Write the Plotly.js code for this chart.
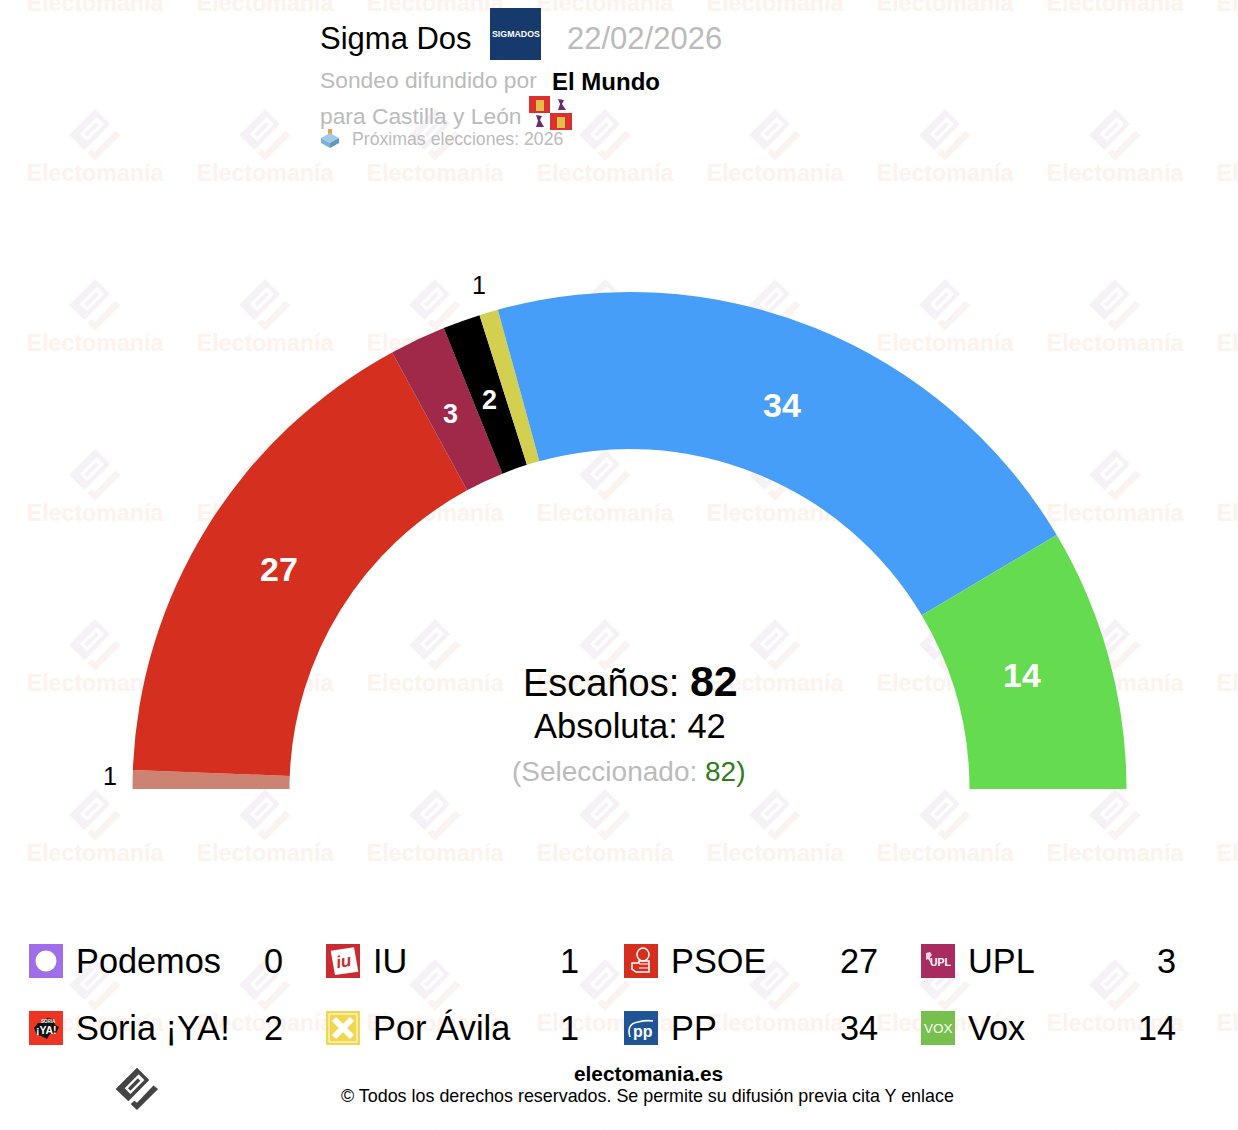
<!DOCTYPE html>
<html>
<head>
<meta charset="utf-8">
<script src="https://cdn.plot.ly/plotly-3.0.1.min.js"></script>
<style>html,body{margin:0;padding:0;background:#fff;overflow:hidden;width:1238px;height:1130px}</style>
</head>
<body>
<div id="chart"></div>
<script>
// ---- data ----
const parties = ["Podemos","IU","PSOE","UPL","Soria ¡YA!","Por Ávila","PP","Vox"];
const seats = [0,1,27,3,2,1,34,14];
const sliceColors = ["#a06ee8","#cc8371","#d52f1f","#a0294a","#000000","#d2d04e","#469ef8","#65db50"];
const totalSeats = 82;
const majority = 42;
const selected = 82;
const pollster = "Sigma Dos";
const pollDate = "22/02/2026";
const media = "El Mundo";

// ---- page geometry ----
const W = 1400, H = 1300, FONT = '"Liberation Sans", Arial, sans-serif';
const CX = 629.5, CY = 789, RO = 497, RI = 340;
const GREY = '#bbbbbb';

const shapes = [], ann = [];
const poly = (pts,dx,dy,s) => pts.map((p,i)=>(i?'L':'M')+(dx+p[0]*s).toFixed(2)+','+(dy+p[1]*s).toFixed(2)).join(' ')+' Z';
const addPath = (d,fill,layer,extra) => shapes.push(Object.assign({type:'path',path:d,xref:'x',yref:'y',fillcolor:fill,line:{width:0},layer:layer||'above'},extra||{}));
const addRect = (x0,y0,x1,y1,fill,layer) => shapes.push({type:'rect',x0,y0,x1,y1,xref:'x',yref:'y',fillcolor:fill,line:{width:0},layer:layer||'above'});
const addText = (x,y,text,size,color,anchor,extra) => ann.push(Object.assign({x,y,xref:'x',yref:'y',text,showarrow:false,xanchor:anchor||'left',yanchor:'middle',font:{family:FONT,size,color:color||'#000'},borderpad:0,borderwidth:0},extra||{}));

// ---- logo outline used by the watermark and the footer ----
const logoBody = [[0,-26],[15,-11],[-10.5,15],[-26,0]];
const logoHole = [[-15,-1],[-8,6],[9,-11],[2,-18]];
const logoBar  = [[-11,-1],[-8,2],[4,-10],[1,-13]];
const logoArm  = [[20,-4.3],[25.7,0],[0,25.7],[-7.7,18.3],[-3.3,14.3],[0,16.7]];
function logo(cx,cy,s,c1,c2,layer){
  addPath(poly(logoBody,cx,cy,s)+' '+poly(logoHole,cx,cy,s),c1,layer);
  addPath(poly(logoBar,cx,cy,s),c1,layer);
  addPath(poly(logoArm,cx,cy,s),c2,layer);
}

// ---- watermark ----
const wmX=[], wmY=[], wmT=[];
for(let col=0; col<8; col++){
  for(let row=0; row<8; row++){
    const x = 95+170*col, y = 5.5+170*row;
    if(row<7){ wmX.push(x); wmY.push(y); wmT.push('Electomanía'); }
    logo(x, y-40.5, 1, '#f5f1f7', '#fbf3f0', 'below');
  }
}

// ---- header ----
addText(320,38,pollster,31,'#000');
addRect(490,8,541,60,'#163a6b');
addText(515.5,34,'SIGMADOS',8.8,'#fff','center',{font:{family:FONT,size:8.8,color:'#fff',weight:700}});
addText(567,38,pollDate,31,GREY);
addText(320,80,'Sondeo difundido por',22.8,GREY);
addText(552,81,media,24,'#000','left',{font:{family:FONT,size:24,color:'#000',weight:700}});
addText(320,115.5,'para Castilla y León',22.8,GREY);
addText(352,139,'Próximas elecciones: 2026',17.7,GREY);
// flag
addRect(529,96,550,113,'#dc3030'); addRect(550,113,572,130,'#dc3030');
addRect(536,100,544,111,'#e3bd45'); addRect(557,117,565,128,'#e3bd45');
addPath('M558,99 L564,100 L562,104 L566,110 L558,110 L560,104 Z','#6f2c6c');
addPath('M536,115 L542,116 L540,120 L544,127 L536,127 L538,121 Z','#6f2c6c');
// ballot box
addRect(328,129,332,137,'#e8a04a');
addPath('M321,138 L330,133 L339,138 L330,143 Z','#9fcbe6');
addPath('M321,138 L330,143 L330,148 L321,143 Z','#7cb2d4');
addPath('M339,138 L330,143 L330,148 L339,143 Z','#5b98c4');

// ---- centre text ----
addText(630,681,'Escaños: <span style="font-weight:bold;font-size:43px">'+totalSeats+'</span>',38,'#000','center');
addText(630,725.5,'Absoluta: '+majority,34.5,'#000','center');
addText(628.5,771,'(Seleccionado: <span style="color:#2d7d1e">'+selected+')</span>',28,GREY,'center');

// ---- legend ----
const legX = [29,326,624,921], valX = [283,579,878,1176], legY = [944,1011];
const iconColors = ['#a06ee8','#cb2a30','#d5301f','#a92c60','#ee3524','#f2d74e','#1f5596','#76c04e'];
function iconArt(i,x,y){
  const T=(rx,ry,t,sz,c,ex)=>addText(x+rx,y+ry,t,sz,c||'#fff','center',Object.assign({font:{family:FONT,size:sz,color:c||'#fff',weight:700}},ex||{}));
  const stroke=(d,w,c)=>addPath(d,'rgba(0,0,0,0)','above',{line:{color:c||'#fff',width:w}});
  if(i===0){ shapes.push({type:'circle',x0:x+6.5,y0:y+6.5,x1:x+27.5,y1:y+27.5,xref:'x',yref:'y',fillcolor:'#fff',line:{width:0}}); }
  if(i===1){ addPath(poly([[4.7,6.7],[28,3.3],[32.3,27.7],[9,31]],x,y,1),'#fff'); T(18,17,'iu',17,'#cb2a30',{textangle:-10,font:{family:FONT,size:17,color:'#cb2a30',weight:700,style:'italic'}}); }
  if(i===2){
    shapes.push({type:'circle',x0:x+13,y0:y+4,x1:x+25,y1:y+17,xref:'x',yref:'y',fillcolor:'rgba(0,0,0,0)',line:{color:'#fff',width:1.5}});
    stroke(`M${x+8},${y+19} L${x+15},${y+19} L${x+15},${y+17} L${x+25},${y+17} L${x+25},${y+28} L${x+12},${y+28} L${x+8},${y+25} Z`,1.5);
    stroke(`M${x+15},${y+20} L${x+25},${y+20} M${x+15},${y+24} L${x+25},${y+24}`,1);
  }
  if(i===3){ T(20,18,'UPL',10.5); addPath(poly([[5,9],[9,8],[11,11],[9,13],[10,19],[7,15],[5,16]],x,y,1),'#f6d6e4'); }
  if(i===4){
    addPath(poly([[5,17],[9,12],[14,12],[18,7],[24,8],[26,14],[30,16],[27,22],[21,23],[18,28],[12,25],[8,24]],x,y,1),'#111');
    T(19,10,'SORIA',4.5); T(17,19,'¡YA!',10.5);
  }
  if(i===5){
    shapes.push({type:'rect',x0:x+3,y0:y+3,x1:x+31,y1:y+31,xref:'x',yref:'y',fillcolor:'rgba(0,0,0,0)',line:{color:'#fff',width:1}});
    stroke(`M${x+8},${y+8} L${x+26},${y+26} M${x+26},${y+8} L${x+8},${y+26}`,6);
  }
  if(i===6){ T(19,20,'pp',16); stroke(`M${x+6},${y+26} Q${x+2},${y+13} ${x+14},${y+11} Q${x+22},${y+9} ${x+29},${y+10}`,1.6); }
  if(i===7){ T(17,17.5,'VOX',13.5,'#fff',{font:{family:FONT,size:13.5,color:'#fff',weight:400}}); }
}
parties.forEach((p,i)=>{
  const col=i%4, row=Math.floor(i/4), x=legX[col], y=legY[row];
  addRect(x,y,x+34,y+34,iconColors[i]);
  iconArt(i,x,y);
  addText(x+47,y+17,p,34.3,'#000','left');
  addText(valX[col],y+17,String(seats[i]),34.3,'#000','right');
});

// ---- footer ----
logo(137,1089,0.82,'#444444','#444444','above');
addText(648,1073.5,'electomania.es',20.8,'#000','center',{font:{family:FONT,size:20.8,color:'#000',weight:700}});
addText(647,1096,'© Todos los derechos reservados. Se permite su difusión previa cita Y enlace',17.9,'#000','center');

// ---- seat labels on the arc, placed from each slice's own mid-angle ----
const insideR = 414, outsideR = 526;
const labelNudge = {PSOE:[1,-2],UPL:[-2,-1],'Soria ¡YA!':[0,1],PP:[-2,0],Vox:[-7,-4],IU:[0,-3],'Por Ávila':[-1,0]};
let cum = 0;
seats.forEach((v,i)=>{
  const a = Math.PI*(cum+v/2)/totalSeats;
  cum += v;
  if(v===0) return;
  const out = v===1, r = out ? (i===1?520:outsideR) : insideR;
  const n = labelNudge[parties[i]]||[0,0];
  const x = CX - r*Math.cos(a) + n[0], y = CY - r*Math.sin(a) + n[1];
  const size = out?25:(v<5?27:34);
  addText(x,y,String(v),size,out?'#000':'#fff','center',{font:{family:FONT,size,color:out?'#000':'#fff',weight:out?400:700}});
});

// ---- traces ----
const watermarkTrace = {type:'scatter',mode:'text',x:wmX,y:wmY,text:wmT,textposition:'middle center',
  textfont:{family:FONT,size:23.2,weight:700,color:'#fdf2ec'},hoverinfo:'skip',showlegend:false,cliponaxis:false};

const pieTrace = {
  type:'pie', sort:false, direction:'clockwise', rotation:-90, hole:RI/RO,
  values:seats.concat([totalSeats]), labels:parties.concat(['_']), textinfo:'none',
  marker:{colors:sliceColors.concat(['rgba(0,0,0,0)']),line:{width:0}},
  domain:{x:[(CX-RO)/W,(CX+RO)/W],y:[(H-CY-RO)/H,(H-CY+RO)/H]},
  hoverinfo:'skip',showlegend:false
};

Plotly.newPlot('chart',[watermarkTrace,pieTrace],{
  width:W,height:H,margin:{l:0,r:0,t:0,b:0,pad:0},
  paper_bgcolor:'#fff',plot_bgcolor:'rgba(0,0,0,0)',showlegend:false,
  xaxis:{range:[0,W],visible:false,fixedrange:true},
  yaxis:{range:[H,0],visible:false,fixedrange:true},
  shapes:shapes,annotations:ann
},{staticPlot:true,displayModeBar:false});
</script>
</body>
</html>
